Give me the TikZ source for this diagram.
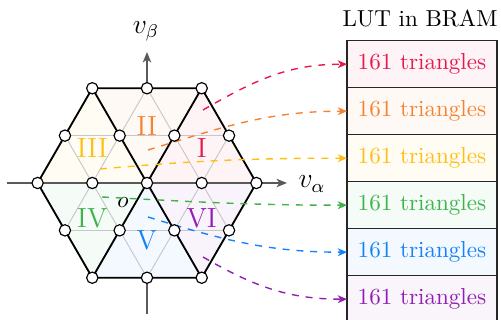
\documentclass[tikz,border=0pt]{standalone}
\usetikzlibrary{arrows.meta}
\definecolor{cI}{RGB}{230,25,75}
\definecolor{cII}{RGB}{245,130,48}
\definecolor{cIII}{RGB}{255,190,20}
\definecolor{cIV}{RGB}{60,180,75}
\definecolor{cV}{RGB}{20,130,250}
\definecolor{cVI}{RGB}{145,30,180}
\begin{document}
\begin{tikzpicture}[x=0.4329pt,y=-0.4329pt,
  vtx/.style={circle,draw=black,fill=white,line width=0.5pt,minimum size=4.9pt,inner sep=0pt},
  hexline/.style={line width=0.8pt,black},
  gridline/.style={line width=0.4pt,black!22},
  axisline/.style={line width=0.8pt,black!65},
  axisarrow/.style={axisline,-{Stealth[length=4.5pt,width=3.6pt,inset=1.2pt]}},
  lutrow/.style={draw=black!85,line width=0.5pt,minimum width=64.94pt,minimum height=20.35pt,inner sep=0pt,outer sep=0pt},
  link/.style={dashed,line width=0.6pt,-{Stealth[length=4pt,width=3.4pt,inset=1.2pt]}},
  seclabel/.style={font=\large},
  axlabel/.style={font=\large}]
\useasboundingbox (0,0) rectangle (501,320);

% key points
\coordinate (O) at (147,183);
\coordinate (V0) at (256.4,183);
\coordinate (V60) at (201.7,88.26);
\coordinate (V120) at (92.3,88.26);
\coordinate (V180) at (37.6,183);
\coordinate (V240) at (92.3,277.74);
\coordinate (V300) at (201.7,277.74);

% axes
\coordinate (xs) at (7,183);
\coordinate (xe) at (287,183);
\coordinate (ys) at (147,314);
\coordinate (ye) at (147,52);
\draw[axisarrow] (xs) -- (xe);
\draw[axisarrow] (ys) -- (ye);

% sector fills
\fill[cI!5]   (O) -- (V0) -- (V60) -- cycle;
\fill[cII!5]  (O) -- (V60) -- (V120) -- cycle;
\fill[cIII!5] (O) -- (V120) -- (V180) -- cycle;
\fill[cIV!5]  (O) -- (V180) -- (V240) -- cycle;
\fill[cV!5]   (O) -- (V240) -- (V300) -- cycle;
\fill[cVI!5]  (O) -- (V300) -- (V0) -- cycle;

% inner grid
\draw[gridline] (64.95,135.63) -- (229.05,135.63);
\draw[gridline] (64.95,230.37) -- (229.05,230.37);
\draw[gridline] (64.95,230.37) -- (147,88.26);
\draw[gridline] (147,277.74) -- (229.05,135.63);
\draw[gridline] (64.95,135.63) -- (147,277.74);
\draw[gridline] (147,88.26) -- (229.05,230.37);

% sector borders
\draw[hexline] (V0) -- (V60) -- (V120) -- (V180) -- (V240) -- (V300) -- cycle;
\draw[hexline] (V60) -- (V240) (V120) -- (V300);
\draw[axisline] (V180) -- (V0);

% sector labels
\node[seclabel,text=cI]   (sI)   at (201.7,148.5) {I};
\node[seclabel,text=cII]  (sII)  at (146.7,126.5) {II};
\node[seclabel,text=cIII] (sIII) at (92.3,148.5) {III};
\node[seclabel,text=cIV]  (sIV)  at (92.3,218.5) {IV};
\node[seclabel,text=cV]   (sV)   at (146.7,240) {V};
\node[seclabel,text=cVI]  (sVI)  at (201.7,218.5) {VI};

% axis labels
\node[axlabel] (la) at (312,184) {$v_\alpha$};
\node[axlabel] (lb) at (146,31) {$v_\beta$};
\node (lo) at (123,203) {$o$};

% LUT
\node (lut) at (420,18) {LUT in BRAM};
\node[lutrow,fill=cI!5,text=cI]     (r1) at (422,64.2)  {161 triangles};
\node[lutrow,fill=cII!5,text=cII]   (r2) at (422,111.2) {161 triangles};
\node[lutrow,fill=cIII!5,text=cIII] (r3) at (422,158.2) {161 triangles};
\node[lutrow,fill=cIV!5,text=cIV]   (r4) at (422,205.2) {161 triangles};
\node[lutrow,fill=cV!5,text=cV]     (r5) at (422,252.2) {161 triangles};
\node[lutrow,fill=cVI!5,text=cVI]   (r6) at (422,299.2) {161 triangles};

% links
\coordinate (s1) at (203,110);
\coordinate (s2) at (148,150);
\coordinate (s3) at (100,169);
\coordinate (s4) at (102,197);
\coordinate (s5) at (148,217);
\coordinate (s6) at (203,257);
\draw[link,cI]   (s1) to[out=30,in=180]  (r1.west);
\draw[link,cII]  (s2) to[out=17,in=180]  (r2.west);
\draw[link,cIII] (s3) to[out=5,in=180]   (r3.west);
\draw[link,cIV]  (s4) to[out=-3,in=180]  (r4.west);
\draw[link,cV]   (s5) to[out=-17,in=180] (r5.west);
\draw[link,cVI]  (s6) to[out=-30,in=180] (r6.west);

% lattice vertices
\foreach \x/\y [count=\i] in {92.3/88.26,147/88.26,201.7/88.26,
  64.95/135.63,119.65/135.63,174.35/135.63,229.05/135.63,
  37.6/183,92.3/183,147/183,201.7/183,256.4/183,
  64.95/230.37,119.65/230.37,174.35/230.37,229.05/230.37,
  92.3/277.74,147/277.74,201.7/277.74}
  \node[vtx] (p\i) at (\x,\y) {};
\end{tikzpicture}
\end{document}
